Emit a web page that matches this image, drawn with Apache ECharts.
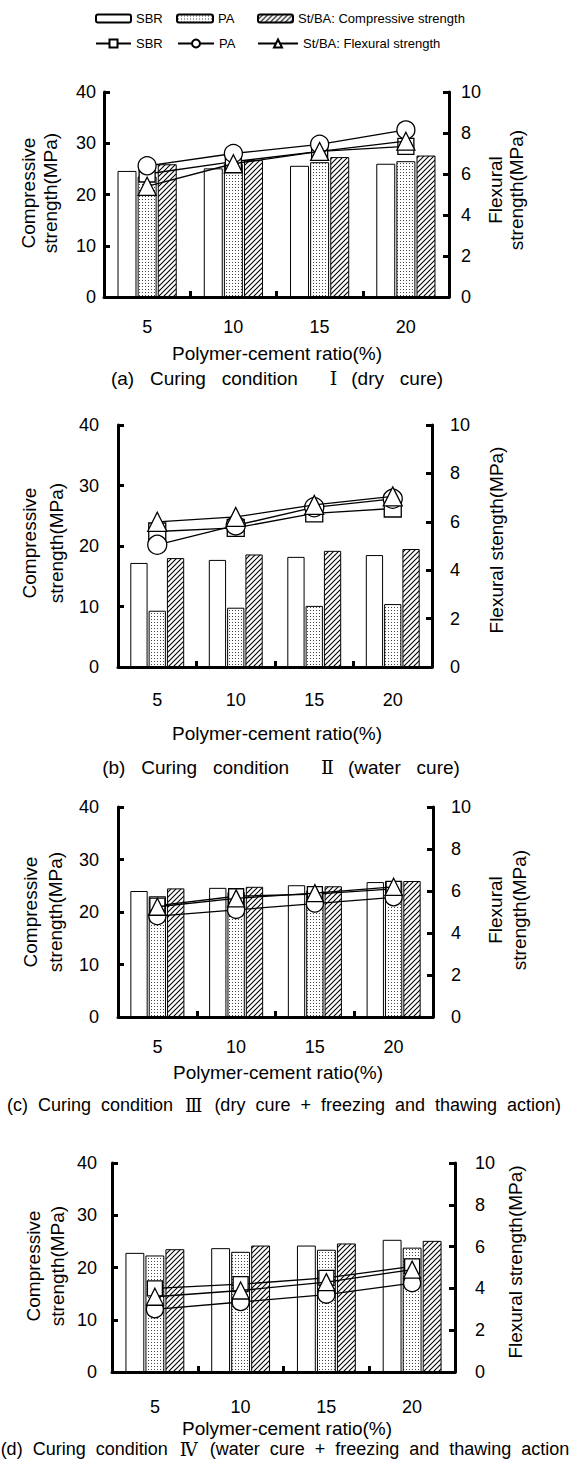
<!DOCTYPE html>
<html><head><meta charset="utf-8">
<script src="https://cdn.jsdelivr.net/npm/echarts@6/dist/echarts.min.js"></script>
<style>html,body{margin:0;padding:0;background:#fff}#c{width:571px;height:1471px}</style>
</head><body><div id="c"></div>
<script>
// ---------- data ----------
const categories = ['5', '10', '15', '20'];
const compTicks = [0, 10, 20, 30, 40];
const flexTicks = [0, 2, 4, 6, 8, 10];
// (a) dry cure
const compA_SBR = [24.6, 25.1, 25.6, 26.0];
const compA_PA = [23.5, 26.0, 26.3, 26.5];
const compA_StBA = [25.9, 26.7, 27.3, 27.6];
const flexA_SBR = [6.0, 6.6, 7.1, 7.35];
const flexA_PA = [6.4, 7.0, 7.45, 8.15];
const flexA_StBA = [5.4, 6.5, 7.1, 7.6];
// (b) water cure
const compB_SBR = [17.2, 17.7, 18.2, 18.5];
const compB_PA = [9.3, 9.8, 10.1, 10.4];
const compB_StBA = [18.0, 18.6, 19.2, 19.5];
const flexB_SBR = [5.6, 5.75, 6.35, 6.55];
const flexB_PA = [5.05, 5.85, 6.6, 6.95];
const flexB_StBA = [6.0, 6.2, 6.7, 7.05];
// (c) dry cure + freeze-thaw
const compC_SBR = [24.0, 24.6, 25.1, 25.7];
const compC_PA = [23.0, 23.8, 24.1, 25.9];
const compC_StBA = [24.5, 24.8, 24.9, 25.9];
const flexC_SBR = [5.3, 5.75, 5.85, 6.1];
const flexC_PA = [4.8, 5.1, 5.4, 5.7];
const flexC_StBA = [5.25, 5.65, 5.9, 6.2];
// (d) water cure + freeze-thaw
const compD_SBR = [22.8, 23.7, 24.2, 25.3];
const compD_PA = [22.3, 23.0, 23.4, 23.8];
const compD_StBA = [23.5, 24.2, 24.6, 25.1];
const flexD_SBR = [4.0, 4.2, 4.5, 5.05];
const flexD_PA = [3.0, 3.35, 3.7, 4.25];
const flexD_StBA = [3.6, 3.9, 4.3, 4.9];

const xTitle = 'Polymer-cement ratio(%)';
const captions = [
  '(a)   Curing   condition{r|\u2160}(dry   cure)',
  '(b)   Curing   condition{r|\u2161}(water   cure)',
  '(c)  Curing  condition  {n|\u2162}  (dry  cure  +  freezing  and  thawing  action)',
  '(d)  Curing  condition  {n|\u2163}  (water  cure  +  freezing  and  thawing  action'
];
const leftTitles = ['Compressive\nstrength(MPa)', 'Compressive\nstrength(MPa)', 'Compressive\nstrength(MPa)', 'Compressive\nstrength(MPa)'];
const rightTitles = ['Flexural\nstrength(MPa)', 'Flexural stength(MPa)', 'Flexural\nstrength(MPa)', 'Flexural strength(MPa)'];

const panels = [
  {comp: [compA_SBR, compA_PA, compA_StBA], flex: [flexA_SBR, flexA_PA, flexA_StBA]},
  {comp: [compB_SBR, compB_PA, compB_StBA], flex: [flexB_SBR, flexB_PA, flexB_StBA]},
  {comp: [compC_SBR, compC_PA, compC_StBA], flex: [flexC_SBR, flexC_PA, flexC_StBA]},
  {comp: [compD_SBR, compD_PA, compD_StBA], flex: [flexD_SBR, flexD_PA, flexD_StBA]}
];
const barNames = ['SBR', 'PA', 'St/BA'];
const lineNames = ['SBR ', 'PA ', 'St/BA '];

// ---------- layout ----------
const FONT = 'Liberation Sans, Arial, sans-serif';
const SERIF = 'DejaVu Serif, Noto Sans CJK JP, serif';
const layout = [
  {grid: {left: 104, top: 92, width: 345, height: 205}, xm: 21, lm: 8, rm: 12, sym: 18, lh: 22,
   xt: [277, 353], cap: [277, 378], capSize: 19, lt: [39, 193], rt: [506, 190], rlh: 21},
  {grid: {left: 118, top: 425, width: 314, height: 242}, xm: 24, lm: 19, rm: 18, sym: 19, lh: 27,
   xt: [277, 733], cap: [281, 767], capSize: 19, lt: [43, 543], rt: [496, 540], rlh: 21},
  {grid: {left: 118, top: 807, width: 315, height: 210}, xm: 21, lm: 19, rm: 18, sym: 17, lh: 25,
   xt: [278, 1072], cap: [284, 1105], capSize: 18, lt: [43, 912], rt: [507, 910], rlh: 24},
  {grid: {left: 112, top: 1163, width: 343, height: 209}, xm: 26, lm: 15, rm: 20, sym: 17, lh: 24,
   xt: [287, 1428], cap: [285, 1449], capSize: 18, lt: [45, 1266], rt: [515, 1262], rlh: 21}
];

// ---------- patterns ----------
function makeTile(kind) {
  const c = document.createElement('canvas');
  const s = kind === 'dot' ? 3 : 5;
  c.width = s; c.height = s;
  const g = c.getContext('2d');
  g.fillStyle = '#fff'; g.fillRect(0, 0, s, s);
  if (kind === 'dot') {
    g.fillStyle = '#444'; g.fillRect(1, 1, 1, 1);
  } else {
    g.strokeStyle = '#000'; g.lineWidth = 1.1;
    for (let o = -s; o <= s; o += s) {
      g.beginPath(); g.moveTo(o - 1, s + 1); g.lineTo(o + s + 1, -1); g.stroke();
    }
  }
  return {image: c.toDataURL(), repeat: 'repeat', imageWidth: s, imageHeight: s};
}
const fills = ['#fff', makeTile('dot'), makeTile('hatch')];
const symbols = ['rect', 'circle', 'triangle'];

// ---------- build option ----------
const grid = [], xAxis = [], yAxis = [], series = [], graphic = [];
layout.forEach((L, i) => {
  grid.push(Object.assign({outerBoundsMode: 'none', containLabel: false}, L.grid));
  xAxis.push({
    type: 'category', gridIndex: i, data: categories,
    axisLine: {lineStyle: {color: '#000', width: 3}},
    axisTick: {show: true, inside: true, length: 6, alignWithLabel: false, lineStyle: {color: '#000', width: 3}},
    axisLabel: {color: '#000', fontSize: 18, fontFamily: FONT, margin: L.xm},
    splitLine: {show: false}
  });
  yAxis.push({
    type: 'value', gridIndex: i, min: compTicks[0], max: compTicks[compTicks.length - 1], interval: 10, position: 'left',
    axisLine: {show: true, lineStyle: {color: '#000', width: 3}},
    axisTick: {show: true, inside: true, length: 6, lineStyle: {color: '#000', width: 3}},
    axisLabel: {color: '#000', fontSize: 18, fontFamily: FONT, margin: L.lm},
    splitLine: {show: false}
  });
  yAxis.push({
    type: 'value', gridIndex: i, min: flexTicks[0], max: flexTicks[flexTicks.length - 1], interval: 2, position: 'right',
    axisLine: {show: true, lineStyle: {color: '#000', width: 3}},
    axisTick: {show: true, inside: true, length: 6, lineStyle: {color: '#000', width: 3}},
    axisLabel: {color: '#000', fontSize: 18, fontFamily: FONT, margin: L.rm},
    splitLine: {show: false}
  });
  const P = panels[i];
  for (let k = 0; k < 3; k++) {
    series.push({
      type: 'bar', name: barNames[k], xAxisIndex: i, yAxisIndex: 2 * i, data: P.comp[k],
      barWidth: '22%', barGap: '6%',
      itemStyle: {color: fills[k], borderColor: '#000', borderWidth: 1},
      emphasis: {disabled: true}, z: 2
    });
  }
  for (let k = 0; k < 3; k++) {
    series.push({
      type: 'line', name: lineNames[k], xAxisIndex: i, yAxisIndex: 2 * i + 1, data: P.flex[k],
      symbol: symbols[k], symbolSize: k === 0 ? L.sym - 2 : L.sym, showAllSymbol: true,
      lineStyle: {color: '#000', width: 1.3},
      itemStyle: {color: '#fff', borderColor: '#000', borderWidth: 1.3},
      emphasis: {disabled: true}, z: 3 + k
    });
  }
  const txt = (x, y, text, size, rot, lh, rich) => graphic.push({
    type: 'text', x: x, y: y, rotation: rot || 0,
    style: {text: text, fill: '#000', fontSize: size, fontFamily: FONT, textAlign: 'center',
      textVerticalAlign: 'middle', lineHeight: lh || size + 4, rich: rich}
  });
  txt(L.xt[0], L.xt[1], xTitle, 19);
  txt(L.cap[0], L.cap[1], captions[i], L.capSize, 0, 22, {
    r: {fontFamily: SERIF, fontSize: 19, fill: '#000', padding: [0, 14, 0, 32]},
    n: {fontFamily: SERIF, fontSize: 18, fill: '#000', padding: [0, 2, 0, 2]}
  });
  txt(L.lt[0], L.lt[1], leftTitles[i], 19, Math.PI / 2, L.lh);
  txt(L.rt[0], L.rt[1], rightTitles[i], 19, Math.PI / 2, L.rlh);
});

const legTxt = {color: '#000', fontSize: 13, fontFamily: FONT};
const legendFmt = {'SBR': 'SBR', 'PA': 'PA', 'St/BA': 'St/BA: Compressive strength',
  'SBR ': 'SBR', 'PA ': 'PA', 'St/BA ': 'St/BA: Flexural strength'};
const mkLeg = (name, left, top, w, h) => ({
  data: [name], left: left, top: top, itemWidth: w, itemHeight: h, padding: 0, itemGap: 0,
  textStyle: legTxt, formatter: n => legendFmt[n], selectedMode: false
});
const legend = [
  mkLeg('SBR', 95, 12, 35, 8), mkLeg('PA', 176, 12, 36, 8), mkLeg('St/BA', 257, 12, 35, 8),
  mkLeg('SBR ', 95, 37, 35, 10), mkLeg('PA ', 177, 37, 36, 10), mkLeg('St/BA ', 257, 37, 40, 10)
];

const chart = echarts.init(document.getElementById('c'), null, {renderer: 'svg'});
chart.setOption({
  animation: false, backgroundColor: '#fff',
  grid, xAxis, yAxis, series, legend, graphic,
  tooltip: {show: false}
});
</script></body></html>
